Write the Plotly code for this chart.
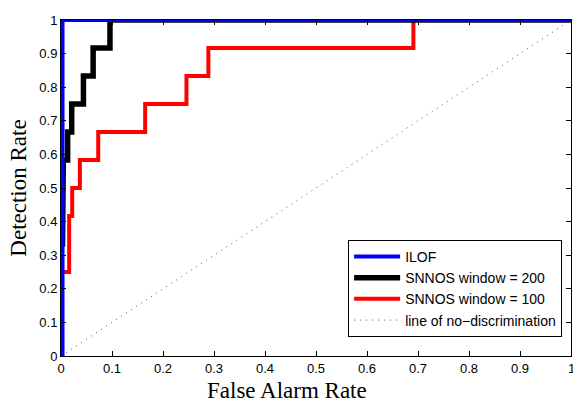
import plotly.graph_objects as go

# ILOF ROC
ilof_far = [0, 0.003, 0.003, 1.0]
ilof_dr = [0, 0, 1.0, 1.0]

# SNNOS window = 200 (step curve)
w200_far = [0, 0, 0.003, 0.003, 0.0045, 0.0045, 0.013, 0.013, 0.021, 0.021, 0.044, 0.044, 0.063, 0.063, 0.096, 0.096, 1.0]
w200_dr = [0, 0.333, 0.333, 0.5, 0.5, 0.583, 0.583, 0.667, 0.667, 0.75, 0.75, 0.833, 0.833, 0.917, 0.917, 1.0, 1.0]

# SNNOS window = 100 (step curve)
w100_far = [0, 0, 0.016, 0.016, 0.022, 0.022, 0.037, 0.037, 0.073, 0.073, 0.165, 0.165, 0.246, 0.246, 0.289, 0.289, 0.691, 0.691, 1.0]
w100_dr = [0, 0.25, 0.25, 0.417, 0.417, 0.5, 0.5, 0.583, 0.583, 0.667, 0.667, 0.75, 0.75, 0.833, 0.833, 0.917, 0.917, 1.0, 1.0]

# line of no-discrimination
diag = [0, 1]

ticks = [0, 0.1, 0.2, 0.3, 0.4, 0.5, 0.6, 0.7, 0.8, 0.9, 1]
tick_text = ["0", "0.1", "0.2", "0.3", "0.4", "0.5", "0.6", "0.7", "0.8", "0.9", "1"]

fig = go.Figure()
fig.add_trace(go.Scatter(x=diag, y=diag, mode="lines", name="line of no\u2212discrimination",
                         line=dict(color="#555555", width=1, dash="1px,5px"), showlegend=True))
fig.add_trace(go.Scatter(x=w100_far, y=w100_dr, mode="lines", name="SNNOS window = 100",
                         line=dict(color="#ff0000", width=4)))
fig.add_trace(go.Scatter(x=w200_far, y=w200_dr, mode="lines", name="SNNOS window = 200",
                         line=dict(color="#000000", width=5.5)))
fig.add_trace(go.Scatter(x=ilof_far, y=ilof_dr, mode="lines", name="ILOF",
                         line=dict(color="#0000ff", width=4)))

tickfont = dict(family="Liberation Sans, Arial", size=13, color="black")
titlefont = dict(family="Liberation Serif, Times New Roman", size=23, color="black")

axis_common = dict(
    range=[0, 1], tickvals=ticks, ticktext=tick_text, ticks="inside", ticklen=5,
    tickcolor="black", showline=True, linecolor="black", linewidth=1, mirror="ticks",
    showgrid=False, zeroline=False, tickfont=tickfont,
)

fig.update_layout(
    width=573, height=403,
    margin=dict(l=61, r=2, t=20, b=47),
    paper_bgcolor="white", plot_bgcolor="white",
    xaxis=dict(**axis_common),
    yaxis=dict(**axis_common, title=dict(text="Detection Rate", standoff=6, font=titlefont)),
    legend=dict(x=0.563, y=0.057, xanchor="left", yanchor="bottom",
                bgcolor="white", bordercolor="black", borderwidth=1,
                traceorder="reversed", tracegroupgap=0, itemwidth=46,
                font=dict(family="Liberation Sans, Arial", size=14, color="black")),
)

# x-axis title (positioned as in the reference) and the clipped "1" tick label
fig.add_annotation(text="False Alarm Rate", xref="paper", yref="paper", x=0.443, y=0,
                   yshift=-20, xanchor="center", yanchor="top", showarrow=False, font=titlefont)
fig.add_annotation(text=tick_text[-1], xref="x", yref="paper", x=ticks[-1], y=0,
                   yshift=-3, xanchor="center", yanchor="top", showarrow=False, font=tickfont)

fig.write_html("out.html")
